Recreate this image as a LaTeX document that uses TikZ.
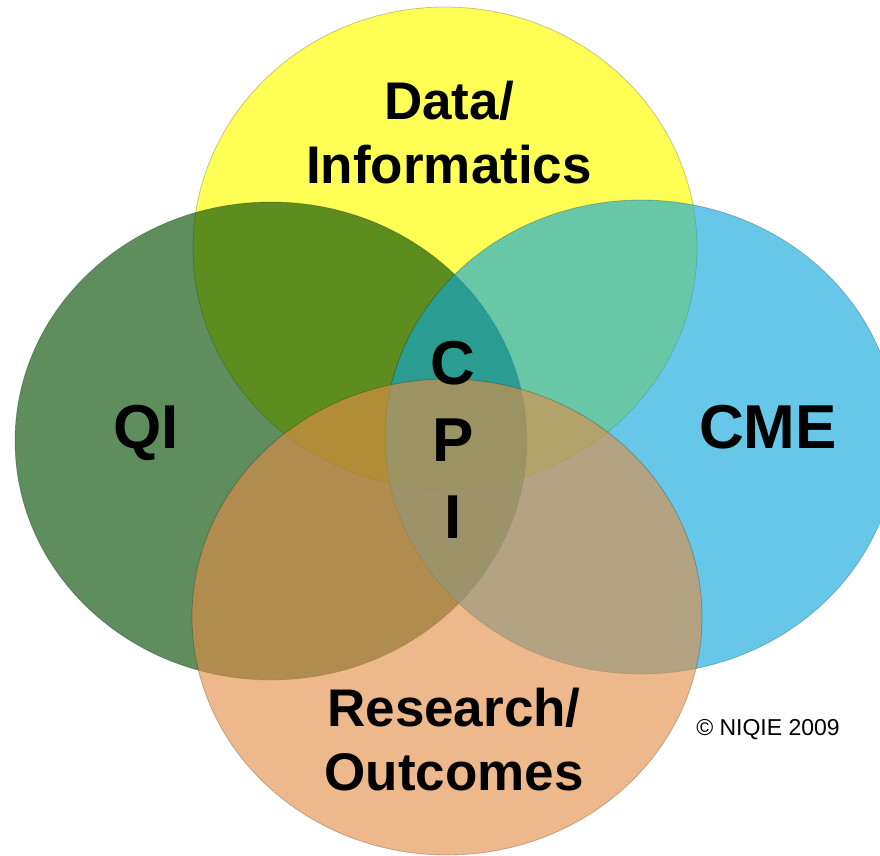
\documentclass[tikz,border=0pt]{standalone}
\usepackage{fontspec}
\setmainfont{Liberation Sans}
\definecolor{cyellow}{RGB}{255,255,85}
\definecolor{cgreen}{RGB}{0,75,1}
\definecolor{cblue}{RGB}{11,166,218}
\definecolor{corange}{RGB}{227,142,69}
\tikzset{
  venn/.style={draw=black, draw opacity=0.22, line width=0.8pt},
  bigbold/.style={font=\fontsize{62}{77}\selectfont\bfseries, anchor=base, align=center, inner sep=0pt},
  midbold/.style={font=\fontsize{53}{64}\selectfont\bfseries, anchor=base, align=center, inner sep=0pt},
  smalltxt/.style={font=\fontsize{23}{28}\selectfont, anchor=base, inner sep=0pt}
}
\begin{document}
\begin{tikzpicture}[x=1pt,y=-1pt]
\useasboundingbox (0,0) rectangle (880,855);
\fill[white] (0,0) rectangle (880,855);
% circles
\path[venn, fill=cyellow] (445,248) ellipse [x radius=252, y radius=241];
\path[venn, fill=cgreen, fill opacity=0.63] (271,441) ellipse [x radius=256, y radius=239];
\path[venn, fill=cblue, fill opacity=0.62] (641,437) ellipse [x radius=256, y radius=237];
\path[venn, fill=corange, fill opacity=0.62] (447,617) ellipse [x radius=255, y radius=238];
% labels
\node[midbold] (data) at (449,183) {Data/\\Informatics};
\node[bigbold] (qi) at (146,448) {QI};
\node[bigbold] (cme) at (768,448) {CME};
\node[bigbold] (cpi) at (453,538) {C\\P\\I};
\node[midbold] (research) at (454,790) {Research/\\Outcomes};
\node[smalltxt] (copy) at (768,735) {© NIQIE 2009};
\end{tikzpicture}
\end{document}
